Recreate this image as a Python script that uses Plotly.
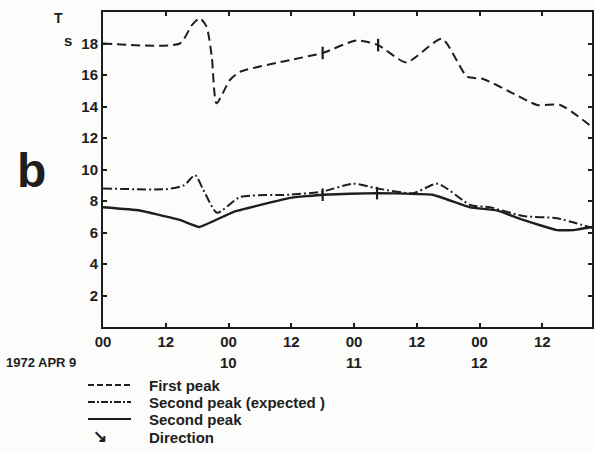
import plotly.graph_objects as go

# hours since 1972 APR 9 00 UT
hours_first = [0, 14.7, 17.0, 18.5, 19.8, 20.8, 21.7, 24.3, 26.2, 35.8, 42, 48.5, 52.6, 58, 64.8, 69.6, 72.7, 78, 83, 87.4, 93.5]
first_peak = [18.0, 18.0, 19.17, 19.6, 19.07, 17.16, 14.2, 15.7, 16.2, 16.95, 17.4, 18.2, 17.9, 16.8, 18.3, 15.9, 15.75, 14.9, 14.1, 14.1, 12.7]

hours_exp = [0, 12, 15.5, 17.6, 19.2, 21.8, 26.2, 35.8, 42, 47.8, 52.4, 59.3, 64, 70.2, 74, 80.3, 86.8, 93.5]
second_expected = [8.8, 8.75, 9.0, 9.65, 8.7, 7.25, 8.25, 8.4, 8.6, 9.1, 8.8, 8.5, 9.1, 7.75, 7.6, 7.05, 6.9, 6.3]

hours_sec = [0, 7, 14.7, 18.4, 24.9, 35.8, 42, 52.4, 63, 70.2, 75.3, 80.3, 86.8, 89.9, 93.5]
second_peak = [7.6, 7.4, 6.8, 6.35, 7.3, 8.2, 8.4, 8.5, 8.4, 7.6, 7.4, 6.8, 6.15, 6.15, 6.35]

# indices where direction arrows are drawn
arrow_idx_first = [10, 12]
arrow_idx_sec = [6, 7]

x_tickvals = [0, 12, 24, 36, 48, 60, 72, 84]
x_ticktext = ["00", "12", "00", "12", "00", "12", "00", "12"]
day_vals = [24, 48, 72]
day_text = ["10", "11", "12"]
y_tickvals = [2, 4, 6, 8, 10, 12, 14, 16, 18]

INK = "#1e1e1e"
FONT = dict(family="Liberation Sans, Arial, sans-serif", size=13, color=INK, weight="bold")

fig = go.Figure()
fig.add_trace(go.Scatter(x=hours_first, y=first_peak, mode="lines",
                         line=dict(color=INK, width=2, dash="9px,5px", shape="spline", smoothing=0.6)))
fig.add_trace(go.Scatter(x=hours_exp, y=second_expected, mode="lines",
                         line=dict(color=INK, width=2, dash="9px,3px,2px,3px", shape="spline", smoothing=0.6)))
fig.add_trace(go.Scatter(x=hours_sec, y=second_peak, mode="lines",
                         line=dict(color=INK, width=2.4, shape="spline", smoothing=0.3)))
fig.add_trace(go.Scatter(x=[hours_first[i] for i in arrow_idx_first] + [hours_sec[i] for i in arrow_idx_sec],
                         y=[first_peak[i] for i in arrow_idx_first] + [second_peak[i] for i in arrow_idx_sec],
                         mode="markers",
                         marker=dict(symbol="line-ns-open", size=9, color=INK, line=dict(width=2.2, color=INK))))

fig.update_layout(
    width=594, height=451,
    margin=dict(l=103, r=2, t=12, b=124, autoexpand=False),
    paper_bgcolor="#fcfcfa", plot_bgcolor="#fcfcfa",
    showlegend=False,
    font=FONT,
    hovermode=False,
)
fig.update_xaxes(range=[0, 93.5], tickvals=x_tickvals, ticktext=x_ticktext,
                 ticks="inside", ticklen=4, tickwidth=2, tickcolor=INK,
                 showline=True, linecolor=INK, linewidth=2, mirror="ticks",
                 showgrid=False, zeroline=False, tickfont=dict(size=15), automargin=False)
fig.update_yaxes(range=[0, 20], tickvals=y_tickvals,
                 ticks="inside", ticklen=4, tickwidth=2, tickcolor=INK,
                 showline=True, linecolor=INK, linewidth=2, mirror="ticks",
                 showgrid=False, zeroline=False, tickfont=dict(size=15), automargin=False)


def px(xp, yp):
    """image pixel -> paper coords (plot area spans x 103..592, y 12..327)"""
    return (xp - 103) / (592 - 103), (327 - yp) / (327 - 12)


def note(text, xp, yp, size, xanchor="center", **kw):
    x, y = px(xp, yp)
    return dict(x=x, y=y, xref="paper", yref="paper", text=text, showarrow=False,
                xanchor=xanchor, yanchor="middle", font=dict(size=size, **kw))


anns = []
for v, t in zip(day_vals, day_text):
    _, yy = px(0, 362)
    anns.append(dict(x=v, y=yy, xref="x", yref="paper", text=t, showarrow=False,
                     xanchor="center", font=dict(size=15), yanchor="middle"))
anns.append(note("1972 APR 9", 4, 362, 13, xanchor="left"))
anns.append(note("T", 58, 18, 14))
anns.append(note("s", 68, 40, 15))
anns.append(note("b", 31, 170, 48, weight="bold"))

legend_items = ["First peak", "Second peak (expected )", "Second peak", "Direction"]
legend_y = [385, 402, 419, 437]
for t, yp in zip(legend_items, legend_y):
    anns.append(note(t, 147, yp, 15, xanchor="left"))
anns.append(note("↘", 100, 436, 17))
fig.update_layout(annotations=anns)

shapes = []
dashes = ["6px,3px", "7px,2px,2px,2px", "solid"]
for d, yp in zip(dashes, legend_y[:3]):
    x0, y0 = px(88, yp)
    x1, _ = px(131, yp)
    shapes.append(dict(type="line", xref="paper", yref="paper", x0=x0, x1=x1, y0=y0, y1=y0,
                       line=dict(color=INK, width=2, dash=d)))
fig.update_layout(shapes=shapes)

fig.write_html("out.html", config={"displayModeBar": False, "staticPlot": True},
               post_script="document.body.style.margin='0';document.body.style.overflow='hidden';")
